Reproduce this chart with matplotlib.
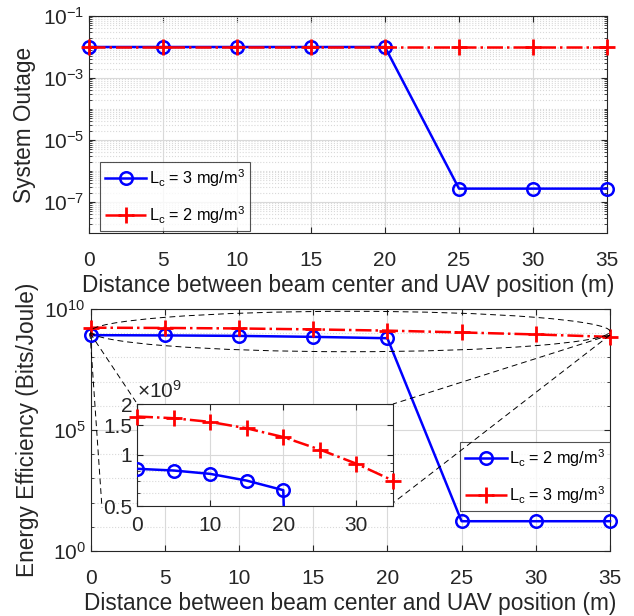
import matplotlib
matplotlib.use("Agg")
import matplotlib.pyplot as plt
import numpy as np
from matplotlib.patches import Ellipse
from matplotlib.lines import Line2D
from matplotlib.ticker import LogLocator, FixedLocator, NullFormatter, FuncFormatter

plt.rcParams['font.family'] = ['Liberation Sans', 'DejaVu Sans']
plt.rcParams['mathtext.fontset'] = 'custom'
plt.rcParams['mathtext.rm'] = 'Liberation Sans'
plt.rcParams['mathtext.it'] = 'Liberation Sans:italic'
plt.rcParams['mathtext.default'] = 'regular'

# data
dist = [0, 5, 10, 15, 20, 25, 30, 35]
outage_lc3 = [1e-2, 1e-2, 1e-2, 1e-2, 1e-2, 2.7e-7, 2.7e-7, 2.7e-7]
outage_lc2 = [1e-2, 1e-2, 1e-2, 1e-2, 1e-2, 1e-2, 1e-2, 1e-2]
ee_lc2 = [0.829e9, 0.810e9, 0.774e9, 0.706e9, 0.620e9, 17, 17, 17]
ee_lc3 = [1.687e9, 1.649e9, 1.568e9, 1.437e9, 1.276e9, 1.076e9, 0.888e9, 0.706e9]

top_yticks = [1e-7, 1e-5, 1e-3, 1e-1]
bot_yticks = [1, 1e5, 1e10]
inset_yticks = [0.5e9, 1e9, 1.5e9, 2e9]
xticks = [0, 5, 10, 15, 20, 25, 30, 35]
xlabel = 'Distance between beam center and UAV position (m)'

W, H = 634, 616
fig = plt.figure(figsize=(W / 100, H / 100), dpi=100)


def px(l, t, r, b):
    return [l / W, 1 - b / H, (r - l) / W, (b - t) / H]


axc = (0.15, 0.15, 0.15)
txtc = (0.15, 0.15, 0.15)
gridc = (0.85, 0.85, 0.85)
LBL = 16.3


def style(ax, fs=15, xpad=13):
    ax.tick_params(which='both', direction='in', top=True, right=True,
                   colors=axc, labelcolor=txtc, labelsize=fs)
    ax.tick_params(axis='x', pad=xpad)
    ax.tick_params(which='major', length=4)
    ax.tick_params(which='minor', length=2)
    for s in ax.spines.values():
        s.set_color(axc)
        s.set_linewidth(0.8)
    ax.grid(True, which='major', color=gridc, linewidth=0.8, linestyle='-')
    ax.set_axisbelow(True)


def pow_fmt(v, pos):
    return r'$10^{%d}$' % int(round(np.log10(v)))


lw = 1.8
ms = 9
leg_kw = dict(fontsize=11.7, frameon=True, fancybox=False, edgecolor=axc,
              handlelength=2.55, handletextpad=0.15, borderaxespad=0.0,
              labelspacing=0.95, borderpad=0.3)

# ---- top panel
ax1 = fig.add_axes(px(89, 16, 607, 233))
style(ax1)
ax1.set_yscale('log')
ax1.plot(dist, outage_lc3, '-o', color='blue', lw=lw, ms=ms, mfc='none', mew=1.8,
         label=r'L$_c$ = 3 mg/m$^3$', zorder=3, clip_on=False)
ax1.plot(dist, outage_lc2, '-.+', color='red', lw=lw, ms=12, mew=2,
         label=r'L$_c$ = 2 mg/m$^3$', zorder=4, clip_on=False)
ax1.set_xlim(0, 35)
ax1.set_ylim(1e-8, 1e-1)
ax1.set_xticks(xticks)
ax1.yaxis.set_major_locator(FixedLocator(top_yticks))
ax1.yaxis.set_major_formatter(FuncFormatter(pow_fmt))
ax1.yaxis.set_minor_locator(LogLocator(base=10, subs=np.arange(1, 10), numticks=20))
ax1.yaxis.set_minor_formatter(NullFormatter())
ax1.grid(True, which='minor', axis='y', color=gridc, linewidth=0.8, linestyle=':')
ax1.set_ylabel('System Outage', fontsize=LBL, color=txtc, labelpad=5)
ax1.set_xlabel(xlabel, fontsize=LBL, color=txtc, labelpad=3)
leg1 = ax1.legend(loc='lower left', **leg_kw)
leg1.get_frame().set_linewidth(0.8)
leg1.set_bbox_to_anchor((100 / W, 1 - 231 / H), transform=fig.transFigure)

# ---- bottom panel
ax2 = fig.add_axes(px(90.5, 309, 610, 551))
style(ax2)
ax2.set_yscale('log')
ax2.plot(dist, ee_lc2, '-o', color='blue', lw=lw, ms=ms, mfc='none', mew=1.8,
         label=r'L$_c$ = 2 mg/m$^3$', zorder=3, clip_on=False)
ax2.plot(dist, ee_lc3, '-.+', color='red', lw=lw, ms=12, mew=2,
         label=r'L$_c$ = 3 mg/m$^3$', zorder=4, clip_on=False)
ax2.set_xlim(0, 35)
ax2.set_ylim(1, 1e10)
ax2.set_xticks(xticks)
ax2.yaxis.set_major_locator(FixedLocator(bot_yticks))
ax2.yaxis.set_major_formatter(FuncFormatter(pow_fmt))
ax2.yaxis.set_minor_locator(LogLocator(base=10, subs=(1.0,), numticks=20))
ax2.yaxis.set_minor_formatter(NullFormatter())
ax2.grid(True, which='minor', axis='y', color=gridc, linewidth=0.8, linestyle=':')
ax2.set_ylabel('Energy Efficiency (Bits/Joule)', fontsize=LBL, color=txtc, labelpad=4)
ax2.set_xlabel(xlabel, fontsize=LBL, color=txtc, labelpad=3)
leg2 = ax2.legend(loc='lower right', **leg_kw)
leg2.set_bbox_to_anchor((610 / W, 1 - 511 / H), transform=fig.transFigure)
leg2.get_frame().set_linewidth(0.8)
leg2.set_zorder(6)

# zoom ellipse
ell = Ellipse((0.5, 0.907), 1.0, 0.167, transform=ax2.transAxes, fill=False,
              edgecolor='black', linestyle=(0, (6, 4)), linewidth=0.7, clip_on=False, zorder=5)
ax2.add_patch(ell)


def fline(x0, y0, x1, y1):
    fig.add_artist(Line2D([x0 / W, x1 / W], [1 - y0 / H, 1 - y1 / H], transform=fig.transFigure,
                          color='black', linestyle=(0, (6, 4)), linewidth=0.7, zorder=5))


fline(90, 333, 136, 402)
fline(90, 333, 102, 508)
fline(610, 335, 393, 404)
fline(610, 335, 393, 503)

# ---- inset
ax3 = fig.add_axes(px(137, 404, 393, 506))
ax3.set_zorder(7)
style(ax3, xpad=7)
ax3.set_yscale('log')
ax3.plot(dist, ee_lc2, '-o', color='blue', lw=lw, ms=ms, mfc='none', mew=1.8, zorder=3)
ax3.plot(dist, ee_lc3, '-.+', color='red', lw=lw, ms=12, mew=2, zorder=4, clip_on=False)
ax3.set_xlim(0, 35)
ax3.set_ylim(0.5e9, 2e9)
ax3.set_xticks([0, 10, 20, 30])
ax3.yaxis.set_major_locator(FixedLocator(inset_yticks))
ax3.yaxis.set_major_formatter(FuncFormatter(lambda v, p: ('%g' % (v / 1e9))))
ax3.yaxis.set_minor_locator(LogLocator(base=10, subs=np.arange(1, 10), numticks=20))
ax3.yaxis.set_minor_formatter(NullFormatter())
ax3.grid(True, which='minor', axis='y', color=gridc, linewidth=0.8, linestyle=':')
ax3.text(0.0, 1.02, r'$\times 10^{9}$', transform=ax3.transAxes, fontsize=15,
         color=txtc, ha='left', va='bottom')

fig.savefig('out.png', dpi=100)
